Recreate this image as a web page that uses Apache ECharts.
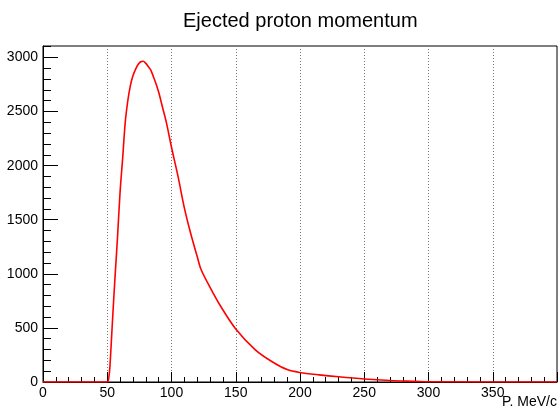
<!DOCTYPE html>
<html>
<head>
<meta charset="utf-8">
<script src="https://cdn.jsdelivr.net/npm/echarts@6/dist/echarts.min.js"></script>
<style>html,body{margin:0;padding:0;background:#fff}#c{width:560px;height:410px}</style>
</head>
<body>
<div id="c"></div>
<script>
const titleText = "Ejected proton momentum";
const xName = "P. MeV/c";
const momentum = [0,50,51,52,54,56,58,60,62,64,66,68,70,72,74,76,78,80,82,84,86,88,90,93,96,100,105,110,115,120,123,130,138,150,165,178,190,200,215,230,250,270,290,300,400];
const counts   = [0,0,25,130,550,960,1340,1760,2070,2400,2600,2740,2830,2890,2935,2960,2965,2945,2915,2880,2820,2755,2680,2540,2400,2170,1905,1610,1370,1160,1040,875,705,490,300,190,115,88,66,48,28,14,6,2,0];
const xTicks = [0,50,100,150,200,250,300,350];
const yTicks = [0,500,1000,1500,2000,2500,3000];

const font = "'Liberation Sans', Arial, sans-serif";
const chart = echarts.init(document.getElementById('c'), null, {renderer:'canvas'});
chart.setOption({
  animation:false,
  backgroundColor:'#fff',
  title:[
    {text:titleText,left:178,top:6,textStyle:{fontFamily:font,fontSize:20,fontWeight:'normal',color:'#000'}},
    {text:xName,right:3,top:395,padding:0,textStyle:{fontFamily:font,fontSize:14,fontWeight:'normal',color:'#000'}}
  ],
  grid:{left:43,right:3,top:46,bottom:28,outerBoundsMode:'none',containLabel:false,show:true,borderColor:'#000',borderWidth:1,backgroundColor:'transparent'},
  xAxis:{type:'value',min:0,max:400,interval:50,
    axisLine:{lineStyle:{color:'#000',width:1}},
    axisTick:{inside:true,length:10,lineStyle:{color:'#000'}},
    minorTick:{show:true,splitNumber:5,length:5,lineStyle:{color:'#000'}},
    axisLabel:{fontFamily:font,fontSize:14,color:'#000',margin:4,
      formatter:v=>xTicks.includes(v)?String(v):''},
    splitLine:{show:true,lineStyle:{color:'#777',type:[1,2],width:1}}
  },
  yAxis:{type:'value',min:0,max:3106,interval:500,
    axisLine:{show:true,lineStyle:{color:'#000',width:1}},
    axisTick:{show:true,inside:true,length:15,customValues:yTicks,lineStyle:{color:'#000'}},
    minorTick:{show:true,splitNumber:5,length:8,lineStyle:{color:'#000'}},
    axisLabel:{fontFamily:font,fontSize:14,color:'#000',margin:5,customValues:yTicks,
      formatter:v=>yTicks.includes(v)?String(v):''},
    splitLine:{show:false}
  },
  series:[{type:'line',data:momentum.map((x,i)=>[x,counts[i]]),showSymbol:false,smooth:0.3,
    lineStyle:{color:'#ff0000',width:1.6},z:5}]
});
</script>
</body>
</html>
